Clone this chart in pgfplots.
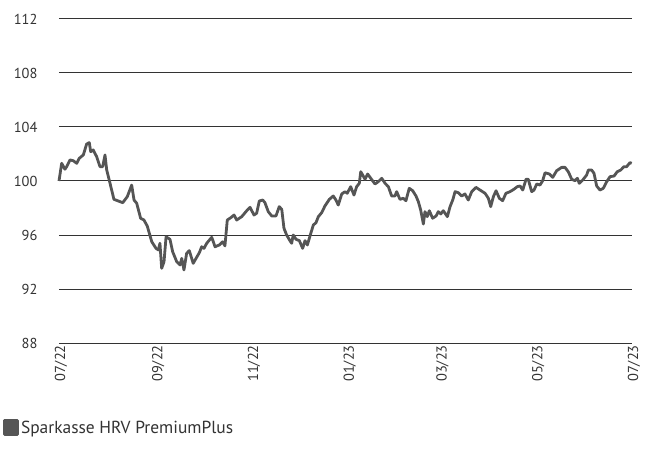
\documentclass[border=0pt]{standalone}
\usepackage{pgfplots}
\pgfplotsset{compat=1.18}
\usepackage{pgfplotstable}
\usepackage{fontspec}
\setmainfont{PT Sans}
\definecolor{linegray}{HTML}{555555}
\definecolor{txt}{HTML}{333333}
\newcommand{\tl}{\fontsize{14.5}{17}\selectfont}
\pgfplotstableread{
day val
0 100.00
1.7 101.31
3.8 100.87
4.9 101.06
7.0 101.56
9.1 101.50
11.3 101.31
12.9 101.68
15.5 101.93
17.6 102.74
19.3 102.84
20.2 102.17
21.8 102.30
24.0 101.80
26.1 101.06
27.8 101.06
29.3 101.93
30.4 100.81
32.5 99.83
35.0 98.64
37.8 98.52
40.6 98.39
43.5 98.84
46.3 99.70
47.8 98.59
49.5 98.35
52.0 97.24
54.1 97.11
56.2 96.67
59.1 95.50
61.8 95.01
63.3 94.89
64.3 95.39
65.4 93.53
66.9 94.02
68.2 95.87
70.7 95.68
72.4 94.76
75.0 94.02
77.1 93.78
78.2 94.27
79.6 93.41
81.3 94.64
83.0 94.84
85.5 93.90
87.7 94.35
89.4 94.69
90.9 95.13
92.4 95.01
94.1 95.39
97.3 95.83
99.4 95.13
102.1 95.26
104.3 95.50
105.7 95.19
107.2 97.11
109.4 97.28
111.5 97.48
113.2 97.11
116.4 97.36
119.6 97.80
121.7 98.05
124.2 97.48
125.9 97.61
127.6 98.52
129.8 98.59
131.2 98.39
133.3 97.73
135.5 97.41
138.2 97.41
140.3 98.10
141.9 97.90
143.3 96.50
145.0 96.00
147.1 95.58
148.2 95.39
149.2 96.00
151.0 95.68
153.1 95.58
155.2 95.01
156.7 95.58
158.2 95.26
159.9 95.93
162.0 96.74
163.7 96.91
165.2 97.36
167.3 97.65
169.4 98.15
172.2 98.64
174.7 98.89
176.4 98.59
177.9 98.22
180.1 99.04
182.2 99.21
183.6 99.09
185.8 99.58
187.9 98.96
189.6 99.58
191.3 99.83
192.2 100.69
193.8 100.37
194.9 100.13
196.6 100.52
198.6 100.20
201.3 99.78
203.4 99.95
205.6 100.20
207.7 99.83
209.8 99.58
211.9 98.89
214.0 98.89
215.1 99.21
217.2 98.64
219.3 98.72
221.0 98.54
223.1 99.46
225.3 99.28
227.4 98.89
228.9 98.47
230.4 97.85
232.1 96.81
233.1 97.73
234.6 97.36
235.9 97.80
238.0 97.24
240.2 97.41
241.6 97.73
243.2 97.56
244.8 97.80
247.4 97.36
249.1 98.10
250.8 98.59
252.3 99.21
254.4 99.13
256.5 98.89
258.6 99.04
260.7 98.59
262.9 99.21
265.6 99.53
268.2 99.33
271.4 99.09
273.5 98.72
275.0 98.10
276.7 98.84
278.4 99.28
280.5 98.72
282.6 98.54
284.7 99.09
287.3 99.21
289.8 99.39
291.9 99.58
293.7 99.63
295.4 99.33
297.5 100.13
298.9 100.13
301.1 99.21
302.6 99.33
304.3 99.78
306.4 99.70
308.1 100.02
309.6 100.61
312.3 100.52
314.5 100.27
317.0 100.76
320.2 101.01
322.3 101.01
324.4 100.69
326.6 100.13
328.7 100.02
330.2 100.20
331.4 99.83
333.6 100.07
336.1 100.44
337.2 100.81
339.3 100.81
340.8 100.57
342.5 99.63
344.6 99.33
346.7 99.46
348.9 99.95
351.0 100.32
353.6 100.37
355.6 100.69
357.8 100.81
359.9 101.06
361.6 101.06
363.7 101.36
364.8 101.31
}\fund
\begin{document}
\begin{tikzpicture}
\useasboundingbox (-59bp,-112bp) rectangle (587bp,343bp);
\begin{axis}[
  scale only axis,
  width=573bp, height=324bp,
  xmin=0, xmax=365, ymin=88, ymax=112,
  axis line style={draw=none},
  ytick={88,92,...,112},
  xtick={0,62,123,184,243,304,365},
  xticklabels={07/22,09/22,11/22,01/23,03/23,05/23,07/23},
  major tick length=0pt,
  ymajorgrids,
  grid style={line width=1bp, color=black!80},
  every tick label/.append style={font=\tl, text=txt},
  /pgf/number format/assume math mode=true,
  yticklabel style={anchor=east, xshift=-18bp, font=\tl},
  xticklabel style={rotate=90, anchor=east, yshift=-2bp, xshift=-1bp, font=\tl, inner sep=1bp},
  legend style={draw=none, fill=none, at={(-0.0977,-0.262)}, anchor=west,
    font=\fontsize{17.5}{20}\selectfont, text=txt, inner sep=0pt},
  legend cell align=left,
  legend image code/.code={\fill[linegray] (0cm,-6.5bp) rectangle (13bp,7.5bp);},
  clip=false,
]
\addplot[color=linegray, line width=2.8bp, line join=round, no marks] table[x=day,y=val]{\fund};
\addlegendentry{Sparkasse HRV PremiumPlus}
\end{axis}
\end{tikzpicture}
\end{document}
